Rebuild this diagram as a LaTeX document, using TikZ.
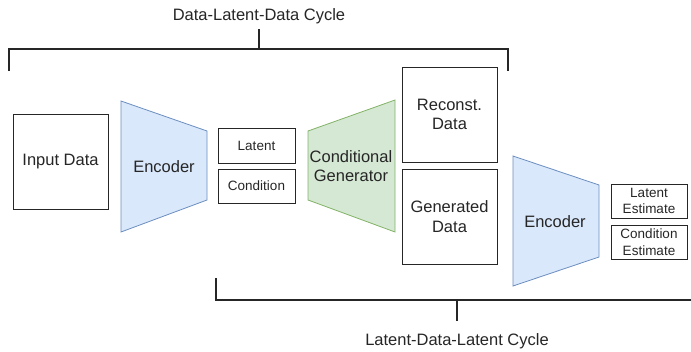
\documentclass[tikz,border=0pt]{standalone}
\usepackage{fontspec}
\setmainfont{Liberation Sans}
\begin{document}
\begin{tikzpicture}[x=1pt,y=-1pt,
  box/.style={draw=black!85,line width=0.8pt,fill=white,inner sep=0pt,align=center,
    text=black!85,font=\fontsize{16.5}{19.5}\selectfont},
  smallbox/.style={box,font=\fontsize{13.5}{16.5}\selectfont},
  encshape/.style={draw={rgb,255:red,108;green,142;blue,191},fill={rgb,255:red,218;green,232;blue,252},line width=0.8pt},
  genshape/.style={draw={rgb,255:red,130;green,179;blue,102},fill={rgb,255:red,213;green,232;blue,212},line width=0.8pt},
  lbl/.style={text=black!85,align=center,inner sep=0pt,font=\fontsize{16.5}{19.5}\selectfont},
  bracket/.style={draw=black!85,line width=1.3pt}]
\useasboundingbox (0,0) rectangle (691,351);

% upper bracket
\coordinate (tl) at (9,71);
\coordinate (tr) at (508,71);
\coordinate (tm) at (259,49);
\coordinate (tt) at (259,29);
\draw[bracket] (tl) -- (tl |- tm) -- (tr |- tm) -- (tr);
\draw[bracket] (tm) -- (tt);
\node[lbl] (toplabel) at (259,16) {Data-Latent-Data Cycle};

% lower bracket
\coordinate (bl) at (216,278);
\coordinate (br) at (691,300);
\coordinate (bm) at (457,300);
\coordinate (bb) at (457,321);
\draw[bracket] (bl) |- (br);
\draw[bracket] (bm) -- (bb);
\node[lbl] (botlabel) at (457,341) {Latent-Data-Latent Cycle};

% data boxes
\node[box,minimum width=95pt,minimum height=95pt] (input) at (60.5,161.5) {Input Data};
\node[smallbox,minimum width=77pt,minimum height=35pt] (latent) at (256.5,145.5) {Latent};
\node[smallbox,minimum width=77pt,minimum height=34pt] (cond) at (256.5,186) {Condition};
\node[box,minimum width=95pt,minimum height=95pt] (recon) at (449.5,114.5) {Reconst.\\Data};
\node[box,minimum width=95pt,minimum height=95pt] (gen) at (449.5,216.5) {Generated\\Data};
\node[smallbox,minimum width=76pt,minimum height=34pt] (latest) at (649,201) {Latent\\Estimate};
\node[smallbox,minimum width=76pt,minimum height=34pt] (condest) at (649,242) {Condition\\Estimate};

% encoder and generator blocks
\draw[encshape] (121,101) -- (207,131) -- (207,200) -- (121,232) -- cycle;
\node[lbl] (enc1) at (164,166.5) {Encoder};
\draw[genshape] (308,131) -- (395,100) -- (395,232) -- (308,200) -- cycle;
\node[lbl] (cgen) at (351,166) {Conditional\\Generator};
\draw[encshape] (513,156) -- (599,185) -- (599,257) -- (513,286) -- cycle;
\node[lbl] (enc2) at (555,221.5) {Encoder};
\end{tikzpicture}
\end{document}
